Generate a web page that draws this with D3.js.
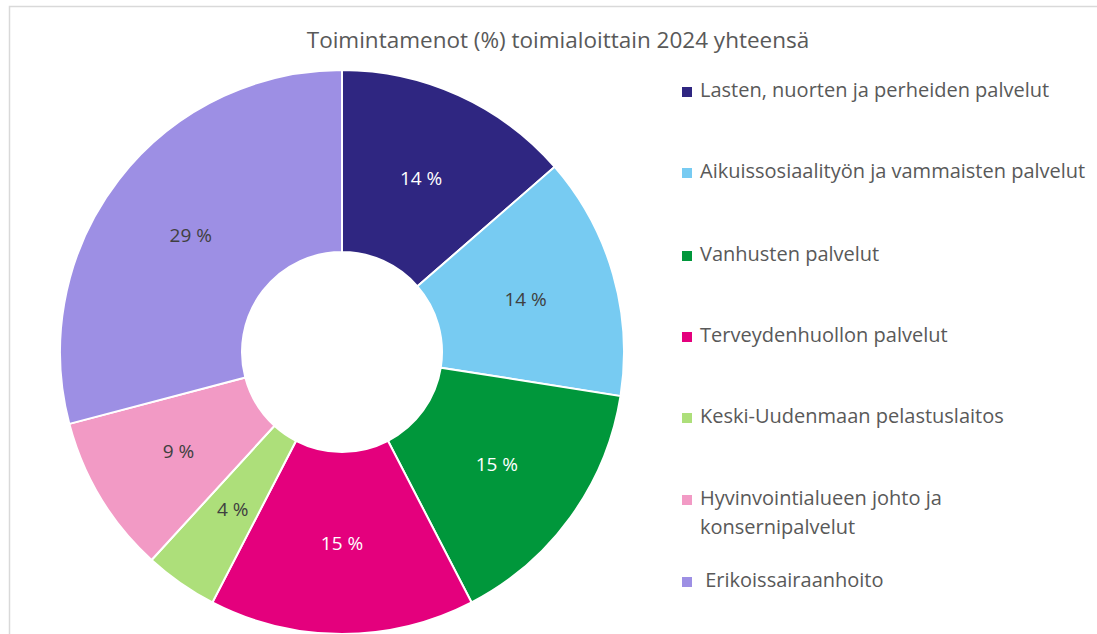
<!DOCTYPE html>
<html>
<head>
<meta charset="utf-8">
<script src="https://cdn.jsdelivr.net/npm/d3@7"></script>
<style>
  body { margin: 0; background: #fff; }
  text { font-family: "Open Sans", Lato, sans-serif; }
</style>
</head>
<body>
<div id="chart"></div>
<script>
// data
var categories = [
  "Lasten, nuorten ja perheiden palvelut",
  "Aikuissosiaalityön ja vammaisten palvelut",
  "Vanhusten palvelut",
  "Terveydenhuollon palvelut",
  "Keski-Uudenmaan pelastuslaitos",
  "Hyvinvointialueen johto ja konsernipalvelut",
  "Erikoissairaanhoito"
];
var legendLines = [
  ["Lasten, nuorten ja perheiden palvelut"],
  ["Aikuissosiaalityön ja vammaisten palvelut"],
  ["Vanhusten palvelut"],
  ["Terveydenhuollon palvelut"],
  ["Keski-Uudenmaan pelastuslaitos"],
  ["Hyvinvointialueen johto ja", "konsernipalvelut"],
  ["\u00a0Erikoissairaanhoito"]
];
var values = [13.6, 13.9, 14.9, 15.2, 4.2, 9.1, 29.1];
var colors = ["#2F2681", "#77CBF2", "#00973B", "#E4007D", "#ADDF7A", "#F29AC5", "#9D8FE4"];
var labelColors = ["#ffffff", "#404040", "#ffffff", "#ffffff", "#404040", "#404040", "#404040"];

var width = 1097, height = 634;
var cx = 342, cy = 352, outerR = 282, innerR = 100;

var svg = d3.select("#chart").append("svg")
  .attr("width", width).attr("height", height);

// chart frame (only top and left edges visible)
svg.append("rect")
  .attr("x", 9.5).attr("y", 6.5)
  .attr("width", width + 20).attr("height", height + 20)
  .attr("fill", "none").attr("stroke", "#d9d9d9").attr("stroke-width", 1.5);

svg.append("text")
  .attr("x", 558).attr("y", 48)
  .attr("text-anchor", "middle")
  .attr("font-size", "22.5px")
  .attr("fill", "#595959")
  .text("Toimintamenot (%) toimialoittain 2024 yhteensä");

var pie = d3.pie().sort(null).value(function(d) { return d; });
var arc = d3.arc().innerRadius(innerR).outerRadius(outerR);
var arcs = pie(values);

var g = svg.append("g").attr("transform", "translate(" + cx + "," + cy + ")");

g.selectAll("path")
  .data(arcs)
  .enter()
  .append("path")
  .attr("d", arc)
  .attr("fill", function(d, i) { return colors[i]; })
  .attr("stroke", "#ffffff")
  .attr("stroke-width", 2);

g.selectAll("text.lbl")
  .data(arcs)
  .enter()
  .append("text")
  .attr("class", "lbl")
  .attr("transform", function(d) { var c = arc.centroid(d); return "translate(" + c[0] + "," + (c[1] + 2) + ")"; })
  .attr("text-anchor", "middle")
  .attr("dominant-baseline", "middle")
  .attr("font-size", "19px")
  .attr("fill", function(d, i) { return labelColors[i]; })
  .text(function(d) { return Math.round(d.data) + " %"; });

// legend
var legendY = [92, 173, 256, 337, 418, 500, 582];
var legend = svg.append("g");
legendLines.forEach(function(lines, i) {
  legend.append("rect")
    .attr("x", 682).attr("y", legendY[i] - 5)
    .attr("width", 10).attr("height", 10)
    .attr("fill", colors[i]);
  lines.forEach(function(t, j) {
    legend.append("text")
      .attr("x", 700).attr("y", legendY[i] + j * 29)
      .attr("dominant-baseline", "middle")
      .attr("font-size", "20px")
      .attr("fill", "#595959")
      .style("white-space", "pre")
      .text(t);
  });
});
</script>
</body>
</html>
